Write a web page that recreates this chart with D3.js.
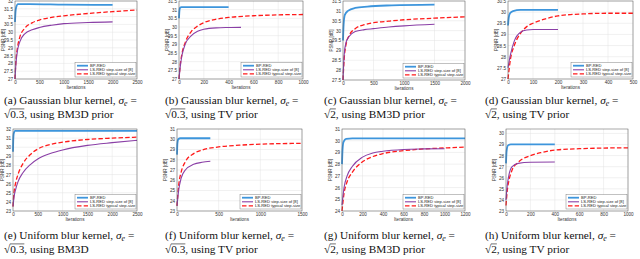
<!DOCTYPE html>
<html><head><meta charset="utf-8">
<script src="https://cdn.jsdelivr.net/npm/d3@7"></script>
<style>body{margin:0;background:#fff} svg{display:block}</style>
</head><body>
<svg id="fig" width="640" height="259"></svg>
<script>
// tick values for each panel
var xTicksA = [0,500,1000,1500,2000,2500], yTicksA = [27,27.5,28,28.5,29,29.5,30,30.5,31,31.5,32];
var xTicksB = [0,200,400,600,800,1000],   yTicksB = [27,27.5,28,28.5,29,29.5,30,30.5,31,31.5];
var xTicksC = [0,500,1000,1500,2000],     yTicksC = [27.5,28,28.5,29,29.5,30,30.5,31,31.5];
var xTicksD = [0,100,200,300,400,500],    yTicksD = [27,27.5,28,28.5,29,29.5,30,30.5];
var xTicksE = [0,500,1000,1500,2000,2500], yTicksE = [23,24,25,26,27,28,29,30,31,32];
var xTicksF = [0,500,1000,1500],          yTicksF = [23,24,25,26,27,28,29,30,31];
var xTicksG = [0,200,400,600,800,1000,1200], yTicksG = [24,25,26,27,28,29,30,31];
var xTicksH = [0,200,400,600,800,1000],   yTicksH = [23,24,25,26,27,28,29,30];
// panel (h) y limits run a bit past the last tick
var yLimH = [23, 30.4];

// [iteration, PSNR]
var bpA  = [[0,30.65],[10,31.3],[25,31.6],[60,31.8],[300,31.8],[1000,31.77],[2000,31.75]];
var ls8A = [[0,27.0],[20,28.0],[50,28.8],[100,29.4],[200,29.9],[350,30.15],[500,30.3],[750,30.45],[1000,30.55],[1500,30.62],[2000,30.66]];
var typA = [[0,27.0],[20,28.2],[50,29.0],[100,29.7],[200,30.25],[350,30.6],[500,30.78],[750,30.95],[1000,31.05],[1500,31.2],[2000,31.32],[2500,31.42]];

var bpB  = [[0,30.5],[3,30.9],[8,31.1],[20,31.15],[400,31.15]];
var ls8B = [[0,27.0],[10,27.7],[25,28.4],[50,29.0],[100,29.5],[150,29.75],[200,29.87],[300,29.95],[400,29.97],[500,29.98]];
var typB = [[0,27.0],[10,27.8],[25,28.5],[50,29.1],[100,29.75],[150,30.05],[200,30.25],[300,30.45],[400,30.55],[600,30.65],[800,30.7],[1000,30.72]];

var bpC  = [[0,29.5],[10,30.3],[30,30.8],[80,31.0],[200,31.15],[400,31.22],[800,31.28],[1500,31.32]];
var ls8C = [[0,27.5],[20,28.8],[50,29.4],[100,29.7],[200,29.95],[350,30.05],[500,30.1],[750,30.18],[1000,30.24],[1500,30.32]];
var typC = [[0,27.5],[20,28.6],[50,29.3],[100,29.75],[200,30.1],[350,30.3],[500,30.4],[750,30.48],[1000,30.55],[1500,30.63],[2000,30.7]];

var bpD  = [[0,29.4],[3,29.75],[8,29.95],[20,30.05],[50,30.1],[200,30.1]];
var ls8D = [[0,27.5],[10,28.1],[25,28.7],[50,29.1],[75,29.2],[100,29.22],[200,29.22]];
var typD = [[0,27.0],[10,27.9],[25,28.5],[50,29.05],[75,29.35],[100,29.5],[150,29.7],[200,29.83],[300,29.92],[400,29.95],[500,29.95]];

var bpE  = [[0,29.5],[5,30.8],[15,31.5],[40,31.8],[2500,31.8]];
var ls8E = [[0,23.5],[20,24.5],[50,25.3],[100,26.2],[200,27.2],[350,28.1],[500,28.7],[750,29.3],[1000,29.7],[1500,30.2],[2000,30.5],[2500,30.75]];
var typE = [[0,23.5],[20,25],[50,26],[100,27],[200,28.2],[350,29.2],[500,29.8],[750,30.3],[1000,30.55],[1500,30.85],[2000,31.0],[2500,31.1]];

var bpF  = [[0,28.5],[5,29.6],[15,30.0],[40,30.1],[400,30.1]];
var ls8F = [[0,23.5],[20,25],[50,26.2],[100,27],[200,27.55],[300,27.75],[400,27.85]];
var typF = [[0,23.5],[20,25.5],[50,26.8],[100,27.8],[200,28.6],[300,28.95],[500,29.25],[750,29.42],[1000,29.52],[1500,29.6]];

var bpG  = [[0,28],[5,29.2],[15,29.9],[40,30.15],[100,30.2],[1200,30.2]];
var ls8G = [[0,24.5],[20,26],[50,27],[100,27.8],[200,28.6],[300,28.95],[400,29.1],[600,29.25],[800,29.3],[1000,29.32]];
var typG = [[0,24],[20,25.5],[50,26.5],[100,27.3],[200,28.2],[300,28.65],[400,28.9],[600,29.15],[800,29.3],[1000,29.38],[1200,29.45]];

var bpH  = [[0,27.3],[5,28.4],[15,28.9],[40,29.02],[400,29.02]];
var ls8H = [[0,24],[10,25.3],[25,26.3],[50,27.0],[100,27.3],[200,27.4],[400,27.42]];
var typH = [[0,23.5],[10,24.8],[25,25.8],[50,26.7],[100,27.4],[200,28.0],[300,28.3],[400,28.5],[600,28.62],[800,28.68],[1000,28.7]];

var legendNames = ["BP-RED", "LS-RED step-size of [8]", "LS-RED typical step-size"];

var svg = d3.select("#fig");

// left, top, right, bottom of each plot box
var panels = [
  {l:"a", box:[15,1,137,79],   xt:xTicksA, yt:yTicksA, s:[bpA,ls8A,typA], kern:"Gaussian", sig:"0.3", tail:"using BM3D prior", cx:4,   cy:104},
  {l:"b", box:[179,1,303,79],  xt:xTicksB, yt:yTicksB, s:[bpB,ls8B,typB], kern:"Gaussian", sig:"0.3", tail:"using TV prior",   cx:165, cy:104},
  {l:"c", box:[343,1,465,80],  xt:xTicksC, yt:yTicksC, s:[bpC,ls8C,typC], kern:"Gaussian", sig:"2",   tail:"using BM3D prior", cx:324, cy:104},
  {l:"d", box:[508,1,633,79],  xt:xTicksD, yt:yTicksD, s:[bpD,ls8D,typD], kern:"Gaussian", sig:"2",   tail:"using TV prior",   cx:485, cy:104},
  {l:"e", box:[13,129,137,211], xt:xTicksE, yt:yTicksE, s:[bpE,ls8E,typE], kern:"Uniform", sig:"0.3", tail:"using BM3D",       cx:4,   cy:239},
  {l:"f", box:[177,129,302,211],xt:xTicksF, yt:yTicksF, s:[bpF,ls8F,typF], kern:"Uniform", sig:"0.3", tail:"using TV prior",   cx:165, cy:239},
  {l:"g", box:[342,129,465,211],xt:xTicksG, yt:yTicksG, s:[bpG,ls8G,typG], kern:"Uniform", sig:"2",   tail:"using BM3D prior", cx:324, cy:239},
  {l:"h", box:[506,129,628,211],xt:xTicksH, yt:yTicksH, yl:yLimH, s:[bpH,ls8H,typH], kern:"Uniform", sig:"2", tail:"using TV prior", cx:485, cy:239}
];

var styles = [
  {c:"#3d95dc", w:1.8, dash:null},
  {c:"#8a3fa6", w:1.1, dash:null},
  {c:"#ff1a1a", w:1.3, dash:"4.5,2.2"}
];

panels.forEach(function(p){
  var L=p.box[0], T=p.box[1], R=p.box[2], B=p.box[3];
  var x = d3.scaleLinear().domain(d3.extent(p.xt)).range([L,R]);
  var y = d3.scaleLinear().domain(p.yl || d3.extent(p.yt)).range([B,T]);
  var g = svg.append("g");

  // grid
  g.append("g").selectAll("line").data(p.xt).enter().append("line")
    .attr("x1",d=>x(d)).attr("x2",d=>x(d)).attr("y1",T).attr("y2",B)
    .attr("stroke","#e3e3e3").attr("stroke-width",0.5);
  g.append("g").selectAll("line").data(p.yt).enter().append("line")
    .attr("y1",d=>y(d)).attr("y2",d=>y(d)).attr("x1",L).attr("x2",R)
    .attr("stroke","#e3e3e3").attr("stroke-width",0.5);

  // axes
  var ax = g.append("g").attr("transform","translate(0,"+B+")")
    .call(d3.axisBottom(x).tickValues(p.xt).tickSize(0).tickPadding(2).tickFormat(d3.format("d")));
  var ay = g.append("g").attr("transform","translate("+L+",0)")
    .call(d3.axisLeft(y).tickValues(p.yt).tickSize(0).tickPadding(2).tickFormat(d=>String(d)));
  [ax,ay].forEach(function(a){
    a.select(".domain").remove();
    a.selectAll("text").attr("font-family","Liberation Sans, Arial, sans-serif").attr("font-size",4.6).attr("fill","#333");
  });

  g.append("text").attr("x",(L+R)/2).attr("y",B+9.5).attr("text-anchor","middle")
    .attr("font-family","Liberation Sans, Arial, sans-serif").attr("font-size",4.6).attr("fill","#333").text("Iterations");
  g.append("text").attr("transform","translate("+Math.max(L-10.5,3.6)+","+((T+B)/2)+") rotate(-90)").attr("text-anchor","middle")
    .attr("font-family","Liberation Sans, Arial, sans-serif").attr("font-size",4.6).attr("fill","#333").text("PSNR [dB]");

  // curves
  var line = d3.line().x(d=>x(d[0])).y(d=>y(d[1])).curve(d3.curveMonotoneX);
  [2,1,0].forEach(function(i){
    g.append("path").datum(p.s[i]).attr("d",line).attr("fill","none")
      .attr("stroke",styles[i].c).attr("stroke-width",styles[i].w)
      .attr("stroke-dasharray",styles[i].dash);
  });

  // box
  g.append("rect").attr("x",L).attr("y",T).attr("width",R-L).attr("height",B-T)
    .attr("fill","none").attr("stroke","#555").attr("stroke-width",0.5);

  // legend
  var lw=61, lh=14.5, lx=R-lw-1, ly=B-lh-2;
  var lg = g.append("g");
  lg.append("rect").attr("x",lx).attr("y",ly).attr("width",lw).attr("height",lh)
    .attr("fill","#fff").attr("stroke","#666").attr("stroke-width",0.4);
  legendNames.forEach(function(n,i){
    var yy = ly+3.2+i*4.1;
    lg.append("line").attr("x1",lx+2).attr("x2",lx+13).attr("y1",yy).attr("y2",yy)
      .attr("stroke",styles[i].c).attr("stroke-width",styles[i].w).attr("stroke-dasharray",styles[i].dash);
    lg.append("text").attr("x",lx+15).attr("y",yy+1.4).attr("font-family","Liberation Sans, Arial, sans-serif")
      .attr("font-size",4.1).attr("fill","#222").text(n);
  });

  // caption
  var fs = 11.3;
  var t1 = svg.append("text").attr("x",p.cx).attr("y",p.cy).attr("font-family","Liberation Serif, Times New Roman, serif").attr("font-size",fs).attr("fill","#111");
  t1.append("tspan").text("("+p.l+") "+p.kern+" blur kernel, ");
  t1.append("tspan").attr("font-style","italic").text("σ");
  t1.append("tspan").attr("font-style","italic").attr("font-size",fs*0.7).attr("dy",2).text("e");
  t1.append("tspan").attr("dy",-2).text(" =");
  var t2 = svg.append("text").attr("x",p.cx).attr("y",p.cy+13.5).attr("font-family","Liberation Serif, Times New Roman, serif").attr("font-size",fs).attr("fill","#111");
  t2.append("tspan").text("√");
  t2.append("tspan").text(p.sig);
  t2.append("tspan").text(", "+p.tail);
  var n0 = t2.node();
  var s = n0.getStartPositionOfChar(1).x, e = n0.getEndPositionOfChar(p.sig.length).x;
  svg.append("line").attr("x1",s-0.3).attr("x2",e).attr("y1",p.cy+13.5-8.6).attr("y2",p.cy+13.5-8.6)
    .attr("stroke","#111").attr("stroke-width",0.6);
});
</script>
</body></html>
